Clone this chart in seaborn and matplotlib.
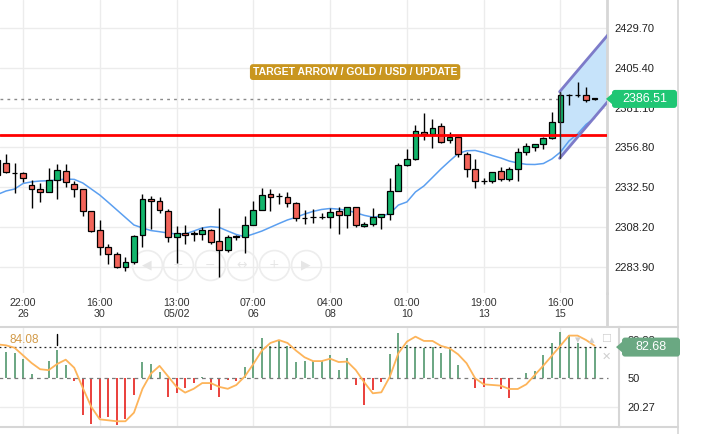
import numpy as np
import seaborn as sns
import matplotlib.pyplot as plt
from matplotlib.lines import Line2D
from matplotlib.patches import Polygon, FancyBboxPatch
from matplotlib.transforms import IdentityTransform

sns.set_theme(style="white")
plt.rcParams['font.family'] = ['Liberation Sans', 'DejaVu Sans']

# candle index (-1 is the bar cut at the left edge)
bar_idx = list(range(-1, 70))

opens = [2349.1, 2347.1, 2341.2, 2341.0, 2333.9, 2331.2, 2329.4, 2336.9, 2342.2, 2334.5,
         2331.2, 2317.9, 2306.3, 2296.1, 2291.5, 2283.9, 2286.6, 2303.1, 2325.1, 2323.9,
         2317.8, 2302.0, 2304.3, 2304.2, 2303.6, 2306.3, 2299.5, 2293.9, 2302.0, 2302.0,
         2309.2, 2318.4, 2328.2, 2327.1, 2326.3, 2322.9, 2313.9, 2314.5, 2314.4, 2314.0,
         2317.9, 2315.3, 2320.2, 2308.5, 2309.9, 2314.1, 2316.1, 2330.1, 2345.8, 2349.6,
         2366.5, 2364.9, 2369.9, 2361.2, 2363.5, 2352.7, 2343.4, 2336.3, 2336.3, 2342.6,
         2337.5, 2343.5, 2353.9, 2356.9, 2358.8, 2362.4, 2372.2, 2388.9, 2388.9, 2388.9,
         2386.9]
highs = [2353.4, 2352.8, 2347.1, 2341.6, 2336.9, 2335.3, 2344.1, 2346.5, 2346.5, 2336.5,
         2331.5, 2317.9, 2312.5, 2297.8, 2293.1, 2289.6, 2303.1, 2328.2, 2327.4, 2326.3,
         2319.0, 2308.8, 2309.1, 2305.9, 2308.4, 2306.8, 2320.1, 2303.1, 2303.1, 2315.2,
         2323.8, 2331.8, 2331.6, 2328.8, 2329.8, 2323.5, 2318.6, 2318.9, 2316.5, 2319.6,
         2320.6, 2320.4, 2320.7, 2311.5, 2319.6, 2316.1, 2337.9, 2347.1, 2355.7, 2370.5,
         2378.1, 2374.0, 2371.6, 2366.5, 2363.8, 2354.2, 2349.6, 2338.3, 2341.8, 2344.7,
         2344.7, 2356.3, 2359.4, 2358.9, 2363.4, 2378.3, 2390.9, 2389.5, 2397.0, 2394.0,
         2387.2]
lows = [2335.1, 2340.9, 2328.8, 2335.9, 2320.0, 2323.6, 2329.4, 2325.3, 2332.8, 2326.7,
        2315.1, 2304.9, 2291.0, 2285.6, 2283.3, 2281.4, 2285.6, 2296.1, 2306.9, 2317.0,
        2298.7, 2286.0, 2297.7, 2299.8, 2300.0, 2297.8, 2277.4, 2292.8, 2300.2, 2292.1,
        2309.1, 2318.4, 2318.1, 2322.1, 2320.4, 2311.8, 2309.9, 2310.6, 2312.8, 2307.3,
        2303.8, 2307.4, 2308.4, 2308.0, 2308.5, 2306.8, 2312.4, 2330.1, 2345.5, 2349.1,
        2361.4, 2356.3, 2359.4, 2359.4, 2351.2, 2338.9, 2332.3, 2334.3, 2334.9, 2336.5,
        2336.6, 2336.5, 2352.0, 2354.7, 2355.7, 2362.3, 2372.2, 2382.8, 2387.5, 2384.8,
        2386.0]
closes = [2340.0, 2341.6, 2341.0, 2338.1, 2331.2, 2329.4, 2336.7, 2342.9, 2335.5, 2331.2,
          2317.9, 2305.9, 2295.8, 2291.5, 2283.9, 2286.6, 2302.9, 2325.1, 2323.9, 2318.4,
          2302.0, 2304.3, 2303.1, 2304.3, 2306.3, 2298.9, 2294.0, 2302.0, 2302.4, 2309.3,
          2318.3, 2327.6, 2326.3, 2326.9, 2322.7, 2313.7, 2313.7, 2314.3, 2314.2, 2317.5,
          2315.4, 2320.2, 2309.1, 2310.0, 2314.3, 2316.1, 2330.1, 2346.1, 2349.6, 2366.6,
          2364.9, 2369.0, 2359.9, 2363.4, 2352.8, 2343.4, 2336.3, 2336.2, 2341.6, 2337.5,
          2343.5, 2353.9, 2357.7, 2358.8, 2362.4, 2372.2, 2388.9, 2389.0, 2389.1, 2385.8,
          2386.51]
moving_avg = [2328.05, 2330.2, 2331.4, 2334.8, 2335.8, 2336.3, 2336.5, 2336.9, 2337.5, 2337.3,
              2335.1, 2331.4, 2327.7, 2323.2, 2318.6, 2314.0, 2309.4, 2307.6, 2306.0, 2305.3,
              2304.5, 2303.9, 2303.9, 2305.7, 2307.6, 2308.4, 2307.9, 2305.7, 2303.6, 2302.2,
              2303.9, 2305.7, 2308.0, 2310.3, 2312.5, 2314.1, 2316.1, 2317.7, 2318.9, 2319.5,
              2319.1, 2318.4, 2316.9, 2315.3, 2314.2, 2314.9, 2316.4, 2321.6, 2323.5, 2329.6,
              2333.3, 2338.5, 2343.7, 2348.5, 2353.1, 2354.8, 2355.0, 2353.7, 2351.9, 2350.4,
              2348.5, 2347.3, 2346.5, 2346.4, 2347.0, 2349.8, 2354.0, 2360.8, 2365.1, 2370.9,
              2374.8]

osc_bars = [78.0, 77.9, 76.9, 70.2, 54.5, 50.5, 68.1, 79.7, 64.0, 47.2,
            11.6, 1.8, 8.1, 9.9, 1.1, 7.4, 32.5, 66.8, 64.7, 56.3,
            30.8, 34.3, 39.5, 44.8, 51.7, 37.8, 30.8, 48.3, 47.2, 62.2,
            80.7, 92.6, 84.2, 90.1, 84.2, 66.8, 68.1, 68.1, 68.1, 74.4,
            58.7, 70.9, 43.0, 22.1, 37.8, 45.8, 75.1, 97.0, 84.9, 83.2,
            82.1, 83.2, 76.2, 80.7, 64.0, 50.3, 39.5, 41.3, 49.0, 38.8,
            29.1, 49.0, 55.2, 57.7, 74.4, 86.6, 98.9, 95.4, 86.6, 83.2,
            82.68]
osc_line = [85.5, 84.5, 82.0, 74.0, 66.0, 59.5, 58.5, 65.0, 69.5, 61.0,
            40.0, 20.0, 7.0, 6.0, 5.0, 5.0, 14.0, 39.0, 55.0, 63.0,
            52.0, 41.0, 35.0, 39.0, 45.0, 45.0, 41.0, 39.0, 43.0, 52.0,
            65.0, 79.0, 87.0, 90.0, 87.0, 79.0, 72.0, 68.0, 68.0, 70.5,
            67.0, 67.5, 58.7, 45.8, 34.3, 35.3, 51.7, 76.2, 88.4, 93.6,
            89.1, 89.1, 83.9, 81.4, 75.1, 65.7, 50.0, 43.7, 43.0, 42.3,
            38.8, 38.8, 43.7, 53.5, 63.3, 73.7, 84.2, 94.7, 94.7, 90.1,
            84.08]

price_ticks = [2283.90, 2308.20, 2332.50, 2356.80, 2381.10, 2405.40, 2429.70]
time_ticks = [2, 11, 20, 29, 38, 47, 56, 65]
time_labels = ["22:00\n26", "16:00\n30", "13:00\n05/02", "07:00\n06",
               "04:00\n08", "01:00\n10", "19:00\n13", "16:00\n15"]
osc_ticks = [20.27, 50, 89.88]
osc_tick_labels = ["20.27", "50", "89.88"]
last_price = 2386.51
last_osc = 82.68
last_signal = 84.08
support_level = 2364.4
# target arrow channel (start / end of the two sloped edges)
target_x = [64.9, 72.0]
target_upper = [2390.9, 2434.5]
target_lower = [2350.2, 2393.8]

GREEN = "#13b56c"
RED = "#f2645a"
GRID = "#ececec"
BORDER = "#d6d6d6"

W, H = 711, 434
fig = plt.figure(figsize=(W / 100, H / 100), dpi=100)
ax = fig.add_axes([0, (H - 293) / H, 607 / W, 293 / H])
ax2 = fig.add_axes([0, (H - 427) / H, 619 / W, 100 / H])

x = np.array(bar_idx)
o = np.array(opens)
c = np.array(closes)

# ---- main chart ----
ax.set_xlim(-6 / 8.53, 601 / 8.53)
ax.set_ylim(2267.81, 2447.01)
ax.set_axisbelow(True)
ax.grid(True, color=GRID, linewidth=1)

ax.axhline(last_price, color="#8a8a8a", linewidth=1, linestyle=(0, (2, 3)), zorder=1)

channel = Polygon([[target_x[0], target_lower[0]], [target_x[0], target_upper[0]],
                   [target_x[1], target_upper[1]], [target_x[1], target_lower[1]]],
                  closed=True, facecolor="#c6e3fa", edgecolor="none", zorder=1.2)
ax.add_patch(channel)

sns.lineplot(x=x, y=moving_avg, ax=ax, color="#5b9ff0", linewidth=1.1, zorder=2)

colors = np.where(np.abs(c - o) < 0.5, "black", np.where(c >= o, GREEN, RED))
ax.vlines(x, lows, highs, color="black", linewidth=1, zorder=3)
ax.bar(x, np.maximum(np.abs(c - o), 0.15), bottom=np.minimum(o, c), width=0.68,
       color=colors, edgecolor="black", linewidth=0.9, zorder=4)

ax.plot(target_x, target_upper, color="#7d7bc9", linewidth=2, zorder=6)
ax.plot(target_x, target_lower, color="#7d7bc9", linewidth=2, zorder=6)
ax.plot([target_x[0], target_x[0]], [target_lower[0], target_upper[0]],
        color="#333333", linewidth=1, zorder=6)

ax.axhline(support_level, color="#ff0000", linewidth=2, zorder=5)

ax.text(0.585, 0.754, "TARGET ARROW / GOLD / USD / UPDATE", transform=ax.transAxes,
        ha="center", va="center", fontsize=7.5, fontweight="bold", color="white",
        bbox=dict(boxstyle="round,pad=0.28", facecolor="#c9961f", edgecolor="none"),
        zorder=7)

# faint navigation buttons
nav_x = [146.7, 178.3, 209.5, 241.7, 274.0, 306.0]
nav_icons = ["◀", "+", "−", "↔", "+", "▶"]
for cx, icon in zip(nav_x, nav_icons):
    ax.plot(cx / 607, 0.0956, marker="o", markersize=21.5, markerfacecolor="none",
            markeredgecolor="#ededed", markeredgewidth=1.2, transform=ax.transAxes,
            zorder=1.5)
    ax.text(cx / 607, 0.0956, icon, transform=ax.transAxes, ha="center", va="center",
            fontsize=9, color="#e6e6e6", family=["DejaVu Sans"], zorder=1.5)

ax.set_yticks(price_ticks, [f"{p:.2f}" for p in price_ticks])
ax.yaxis.tick_right()
ax.tick_params(axis="y", length=0, pad=5, labelsize=8, labelcolor="#222222")
ax.set_xticks(time_ticks)
ax.set_xticklabels(time_labels, fontsize=7.7, linespacing=1.05,
                   fontfamily=["Liberation Sans Narrow", "Liberation Sans", "DejaVu Sans"])
ax.tick_params(axis="x", length=0, pad=3.8, labelcolor="#333333")
ax.set_xlabel("")
ax.set_ylabel("")
for side in ["top", "left", "bottom"]:
    ax.spines[side].set_visible(False)
ax.spines["right"].set_color(BORDER)
ax.spines["right"].set_linewidth(2)

# ---- oscillator panel ----
ax2.set_xlim(-6 / 8.53, 613 / 8.53)
ax2.set_ylim(-1.0, 103.7)
ax2.set_axisbelow(True)
ax2.set_xticks(time_ticks)
ax2.grid(axis="x", color=GRID, linewidth=1)
ax2.axhline(20.27, color=GRID, linewidth=1, zorder=0)

bar_cols = ["#5f9f78" if v >= 50 else "#e8302c" for v in osc_bars]
ax2.vlines(x, 50, osc_bars, colors=bar_cols, linewidth=1.3, zorder=2)
ax2.hlines(50, -1, 70.6, colors="#7a7a7a", linewidth=0.9, linestyles=(0, (3, 3)), zorder=3)
ax2.hlines(last_osc, -1, 70.6, colors="#222222", linewidth=0.9,
           linestyles=(0, (1.5, 2.5)), zorder=3)
sns.lineplot(x=x, y=osc_line, ax=ax2, color="#fdb45a", linewidth=1.3, zorder=4)

ax2.set_yticks(osc_ticks, osc_tick_labels)
ax2.yaxis.tick_right()
ax2.tick_params(axis="y", length=0, pad=6, labelsize=8, labelcolor="#222222")
ax2.tick_params(axis="x", length=0, labelbottom=False)
ax2.set_xlabel("")
ax2.set_ylabel("")
ax2.spines["left"].set_visible(False)
for side in ["top", "bottom", "right"]:
    ax2.spines[side].set_color(BORDER)
    ax2.spines[side].set_linewidth(1.5)

# ---- frame lines and value tags (pixel coordinates) ----
px = IdentityTransform()
fig.add_artist(Line2D([607, 607], [H - 293, H - 326], color=BORDER, linewidth=2, transform=px))
fig.add_artist(Line2D([678, 678], [0, H], color=BORDER, linewidth=1.2, transform=px))
fig.add_artist(Line2D([619, 678], [H - 327, H - 327], color=BORDER, linewidth=1.5, transform=px))
fig.add_artist(Line2D([619, 678], [H - 427, H - 427], color=BORDER, linewidth=1.5, transform=px))


def value_tag(x0, x1, yc, h, text, fc, size):
    fig.add_artist(FancyBboxPatch((x0, yc - h / 2), x1 - x0, h,
                                  boxstyle="round,pad=0,rounding_size=3",
                                  facecolor=fc, edgecolor="none", transform=px, zorder=5))
    fig.add_artist(Polygon([[x0 - 6, yc], [x0 + 1, yc + 6], [x0 + 1, yc - 6]], closed=True,
                           facecolor=fc, edgecolor="none", transform=px, zorder=5))
    fig.text((x0 + x1) / 2, yc, text, transform=px, ha="center", va="center",
             color="white", fontsize=size, zorder=6)


yc_price = ax.transData.transform((0, last_price))[1]
yc_osc = ax2.transData.transform((0, last_osc))[1]
value_tag(612, 677, yc_price, 18, f"{last_price:.2f}", "#1fc674", 9)
value_tag(622, 680, yc_osc, 19, f"{last_osc:.2f}", "#6aa882", 9)

fig.text(10, H - 340, f"{last_signal:.2f}", transform=px, ha="left", va="center",
         fontsize=8.5, color="#d29a48")
fig.add_artist(Line2D([57, 57], [H - 334, H - 345], color="black", linewidth=1, transform=px))

# faint pane controls
for gx, gy, g in [(578, 340, "▾"), (592, 340, "▴"), (606, 339, "☐"), (606, 357, "✕")]:
    fig.text(gx, H - gy, g, transform=px, ha="center", va="center", fontsize=8,
             color="#cfcfcf", family=["DejaVu Sans"])

fig.savefig("out.png", dpi=100)
